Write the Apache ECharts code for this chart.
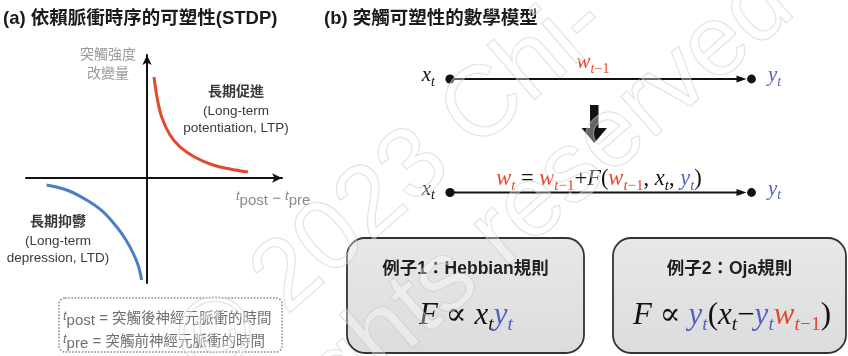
<!DOCTYPE html>
<html><head><meta charset="utf-8">
<script src="https://cdn.jsdelivr.net/npm/echarts@6/dist/echarts.min.js"></script>
<style>html,body{margin:0;padding:0;background:#fff}#c{width:848px;height:356px}</style>
</head><body><div id="c"></div><script>
// ---- data ----
const ltpX = [3.5, 5, 7.3, 11.5, 16.5, 24, 33, 41.5, 50.5];
const ltpY = [50.5, 40.5, 30.6, 21.5, 15.6, 10.4, 6.5, 4.5, 3];
const ltdX = [-50.2, -40.2, -30.2, -21.9, -15.2, -10.5, -6.9, -4.3, -2.7];
const ltdY = [-3.5, -6, -11, -16.9, -24.4, -31, -37.7, -44, -51];
const xRange = [-60.5, 67.5];
const yRange = [-52.5, 61.5];
const titleA = '(a) 依賴脈衝時序的可塑性(STDP)';
const titleB = '(b) 突觸可塑性的數學模型';
const yAxisName = ['突觸強度', '改變量'];
const ltpLabel = ['長期促進', '(Long-term', 'potentiation, LTP)'];
const ltdLabel = ['長期抑鬱', '(Long-term', 'depression, LTD)'];
const legendSubs = ['post', 'pre'];
const legendTexts = ['突觸後神經元脈衝的時間', '突觸前神經元脈衝的時間'];
const exampleTitles = ['例子1：Hebbian規則', '例子2：Oja規則'];
const watermark = ['© 2023 Chi-', 'All rights reserved'];

// ---- helpers ----
const SANS = '"Liberation Sans", "Noto Sans CJK TC", sans-serif';
const SERIF = '"Liberation Serif", "DejaVu Serif", serif';
const RED = '#e4472c', BLUE = '#5560c4', INK = '#111';
const mctx = document.createElement('canvas').getContext('2d');
function fontStr(t) { return (t.italic ? 'italic ' : '') + (t.weight || 'normal') + ' ' + t.size + 'px ' + t.family; }
function tok(text, size, o) { return Object.assign({ text, size, italic: false, weight: 'normal', family: SERIF, color: INK, dy: 0 }, o || {}); }
function measureTok(t) { mctx.font = fontStr(t); return mctx.measureText(t.text).width; }
function row(tokens, x, baseline, align, z) {
  const ws = tokens.map(measureTok);
  const total = ws.reduce((a, b) => a + b, 0);
  let cx = align === 'center' ? x - total / 2 : align === 'right' ? x - total : x;
  return tokens.map((t, i) => {
    const el = { type: 'text', z: z || 10, style: { text: t.text, x: cx, y: baseline + t.dy - 0.34 * t.size, font: fontStr(t), fill: t.color, align: 'left', verticalAlign: 'middle', textAlign: 'left', textVerticalAlign: 'middle' } };
    cx += ws[i];
    return el;
  });
}
function label(text, x, y, size, o) {
  o = o || {};
  return { type: 'text', z: 10, style: { text, x, y, font: (o.weight || 'normal') + ' ' + size + 'px ' + SANS, fill: o.color || '#333', align: o.align || 'center', verticalAlign: 'middle', textAlign: o.align || 'center', textVerticalAlign: 'middle' } };
}
const I = { italic: true };
const sub = (text, size, dy, o) => tok(text, size, Object.assign({ dy }, o || {}));

const g = [];
// titles
g.push(label(titleA, 3, 19, 18.5, { weight: 'bold', align: 'left', color: '#1b1b1b' }));
g.push(label(titleB, 324, 19, 18.5, { weight: 'bold', align: 'left', color: '#1b1b1b' }));
// y-axis name
g.push(label(yAxisName[0], 108, 55, 14, { color: '#9a9a9a' }));
g.push(label(yAxisName[1], 108, 74, 14, { color: '#9a9a9a' }));
// LTP / LTD labels
[92, 111, 128].forEach((y, i) => g.push(label(ltpLabel[i], 236, y, i === 0 ? 14 : 13.5, { weight: i === 0 ? 'bold' : 'normal', color: '#3a3a3a' })));
[222, 241, 258].forEach((y, i) => g.push(label(ltdLabel[i], 58, y, i === 0 ? 14 : 13.5, { weight: i === 0 ? 'bold' : 'normal', color: '#3a3a3a' })));
// x-axis name  t_post - t_pre
const GR = '#8a8a8a';
g.push(...row([
  tok('t', 13, { italic: true, family: SANS, color: GR, dy: -3 }),
  tok('post', 15, { family: SANS, color: GR, dy: 2 }),
  tok(' \u2212 ', 15, { family: SANS, color: GR }),
  tok('t', 13, { italic: true, family: SANS, color: GR, dy: -3 }),
  tok('pre', 15, { family: SANS, color: GR, dy: 2 })
], 236, 204, 'left'));
// dotted legend box
g.push({ type: 'rect', z: 9, shape: { x: 59, y: 298, width: 223, height: 54, r: 6 }, style: { fill: 'none', stroke: '#8a8a8a', lineWidth: 1.5, lineDash: [1.6, 1.6] } });
const LG = '#707070';
[324, 347].forEach((b, i) => {
  g.push(...row([
    tok('t', 13, { italic: true, family: SANS, color: LG, dy: -3 }),
    tok(legendSubs[i], 15, { family: SANS, color: LG, dy: 2 }),
    tok(' = ', 15, { family: SANS, color: LG }),
    tok(legendTexts[i], 14.5, { family: SANS, color: LG })
  ], 63, b, 'left'));
});

// ---- panel (b) diagram ----
[79, 192.5].forEach(y => {
  g.push({ type: 'line', z: 10, shape: { x1: 450, y1: y, x2: 738, y2: y }, style: { stroke: INK, lineWidth: 2 } });
  g.push({ type: 'polygon', z: 10, shape: { points: [[746.5, y], [736.5, y - 3.6], [736.5, y + 3.6]] }, style: { fill: INK } });
  g.push({ type: 'circle', z: 11, shape: { cx: 450, cy: y, r: 4.6 }, style: { fill: INK } });
  g.push({ type: 'circle', z: 11, shape: { cx: 751.5, cy: y, r: 4.4 }, style: { fill: INK } });
  g.push(...row([tok('x', 21, I), sub('t', 14, 4, I)], 435, y + 4, 'right'));
  g.push(...row([tok('y', 21, { italic: true, color: BLUE }), sub('t', 14, 4, { italic: true, color: BLUE })], 768, y + 4, 'left'));
});
// w_{t-1} on top arrow
g.push(...row([tok('w', 21, { italic: true, color: RED }), sub('t', 14, 4, { italic: true, color: RED }), sub('\u22121', 14, 4, { color: RED })], 593, 70, 'center'));
// big down arrow
g.push({ type: 'polygon', z: 10, shape: { points: [[590, 105], [598.5, 105], [598.5, 128], [607, 128], [594.3, 143], [581.5, 128], [590, 128]] }, style: { fill: INK } });
// update formula
const FS = 22.5, FSS = 15;
const wR = () => tok('w', FS, { italic: true, color: RED });
const tR = () => sub('t', FSS, 4, { italic: true, color: RED });
const m1R = () => sub('\u22121', FSS, 4, { color: RED });
g.push(...row([
  wR(), tR(), tok(' = ', FS), wR(), tR(), m1R(), tok('+', FS), tok('F', FS, I), tok('(', FS),
  wR(), tR(), m1R(), tok(', ', FS), tok('x', FS, I), sub('t', FSS, 4, I), tok(', ', FS),
  tok('y', FS, { italic: true, color: BLUE }), sub('t', FSS, 4, { italic: true, color: BLUE }), tok(')', FS)
], 599, 187, 'center'));

// example boxes
const boxes = [[347, 238, 237, 115], [613, 238, 233, 115]];
boxes.forEach((b, i) => {
  g.push({ type: 'rect', z: 8, shape: { x: b[0], y: b[1], width: b[2], height: b[3], r: 18 }, style: { fill: new echarts.graphic.LinearGradient(0, 0, 0, 1, [{ offset: 0, color: '#e8e8e8' }, { offset: 1, color: '#dcdcdc' }]), stroke: '#333', lineWidth: 1.8 } });
  g.push(label(exampleTitles[i], b[0] + b[2] / 2, 269, 17.5, { weight: 'bold', color: '#1e1e1e' }));
});
const S = 31, SS = 19.5, SD = 6;
g.push(...row([
  tok('F', S, I), tok(' \u221D ', S), tok('x', S, I), sub('t', SS, SD, I),
  tok('y', S, { italic: true, color: BLUE }), sub('t', SS, SD, { italic: true, color: BLUE })
], 466, 326, 'center'));
g.push(...row([
  tok('F', S, I), tok(' \u221D ', S), tok('y', S, { italic: true, color: BLUE }), sub('t', SS, SD, { italic: true, color: BLUE }),
  tok('(', S), tok('x', S, I), sub('t', SS, SD, I), tok('\u2212', S),
  tok('y', S, { italic: true, color: BLUE }), sub('t', SS, SD, { italic: true, color: BLUE }),
  tok('w', S, { italic: true, color: RED }), sub('t', SS, SD, { italic: true, color: RED }), sub('\u22121', SS, SD, { color: RED }),
  tok(')', S)
], 732, 326, 'center'));

// watermark
const WF = 'normal 100px "Liberation Sans", sans-serif';
const ang = 41 * Math.PI / 180, dx = Math.cos(ang), dy = -Math.sin(ang);
function mw(t) { mctx.font = WF; return mctx.measureText(t).width; }
function wm(text, anchorText, anchorPart, ax, ay) {
  const off = mw(anchorText) + mw(anchorPart) / 2;
  const sx = ax - off * dx, sy = ay - off * dy;
  return { type: 'text', z: 100, x: sx, y: sy, rotation: ang, silent: true,
    style: { text, x: 0, y: 0, font: WF, fill: 'rgba(255,255,255,0.35)', stroke: 'rgba(190,190,190,0.5)', lineWidth: 1.2, align: 'left', verticalAlign: 'middle', textAlign: 'left', textVerticalAlign: 'middle' } };
}
g.push(wm(watermark[0], '© ', '2023', 352, 222));
g.push(wm(watermark[1], 'All rig', 'h', 385, 335));

const chart = echarts.init(document.getElementById('c'), null, { renderer: 'canvas' });
chart.setOption({
  animation: false,
  backgroundColor: '#fff',
  grid: { left: 26, right: 566, top: 55, bottom: 73, containLabel: false },
  xAxis: { type: 'value', min: xRange[0], max: xRange[1], axisLine: { onZero: true, symbol: ['none', 'arrow'], symbolSize: [7, 10], lineStyle: { color: INK, width: 2 } }, axisTick: { show: false }, axisLabel: { show: false }, splitLine: { show: false } },
  yAxis: { type: 'value', min: yRange[0], max: yRange[1], axisLine: { show: true, onZero: true, symbol: ['none', 'arrow'], symbolSize: [7, 10], lineStyle: { color: INK, width: 2 } }, axisTick: { show: false }, axisLabel: { show: false }, splitLine: { show: false } },
  series: [
    { type: 'line', data: ltpX.map((x, i) => [x, ltpY[i]]), smooth: 0.35, showSymbol: false, lineStyle: { color: '#e14a2f', width: 3 }, z: 3 },
    { type: 'line', data: ltdX.map((x, i) => [x, ltdY[i]]), smooth: 0.35, showSymbol: false, lineStyle: { color: '#4a7fc6', width: 3 }, z: 3 }
  ],
  graphic: { elements: g }
});
</script></body></html>
